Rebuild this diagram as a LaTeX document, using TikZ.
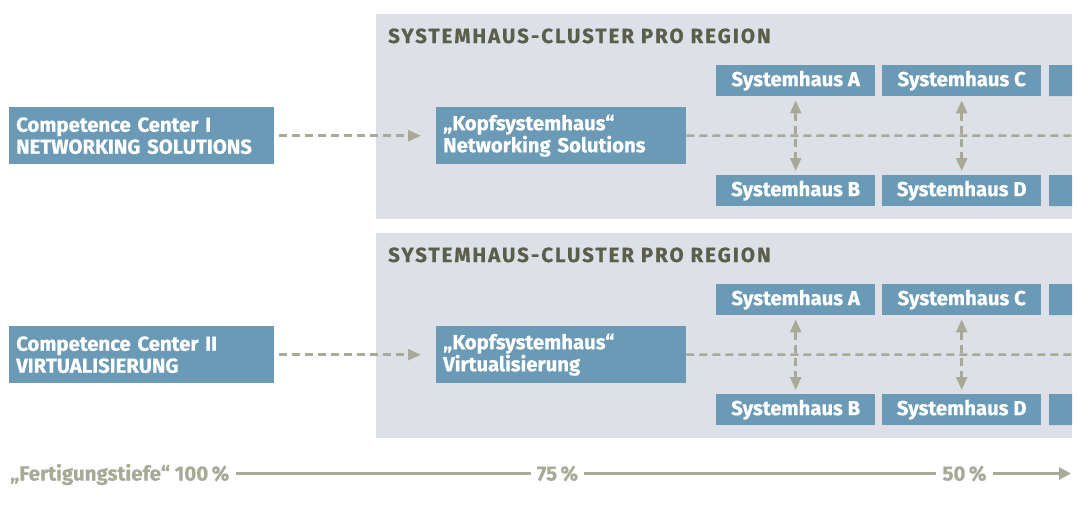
\documentclass[tikz,border=0pt]{standalone}
\usepackage{fontspec}
\setmainfont{Fira Sans}[BoldFeatures={FakeBold=0.6}]
\newfontfamily\spacedfont{Fira Sans}[LetterSpace=9.7, BoldFeatures={FakeBold=0.6}]
\usetikzlibrary{arrows.meta,positioning}
\definecolor{boxblue}{HTML}{6A9AB5}
\definecolor{clusterbg}{HTML}{DDE1E7}
\definecolor{linegrey}{HTML}{A9A998}
\definecolor{titlegrey}{HTML}{5A5E4B}
\tikzset{
  box/.style={fill=boxblue, text=white, font=\bfseries\fontsize{20.3}{22}\selectfont,
    inner sep=0pt, anchor=north west},
  bigbox/.style={box, minimum height=57pt, inner xsep=7pt, align=left},
  housebox/.style={box, minimum width=159pt, minimum height=31pt},
  title/.style={text=titlegrey, font=\spacedfont\bfseries\fontsize{20.5}{22}\selectfont,
    inner sep=0pt, anchor=base west},
  link/.style={draw=linegrey, line width=2.5pt, dash pattern=on 8pt off 5pt},
  tip/.tip={Triangle[length=13pt,width=11pt]},
  axis/.style={draw=linegrey, line width=2.6pt},
  axislabel/.style={text=linegrey, font=\bfseries\fontsize{20.5}{22}\selectfont,
    text height=14pt, text depth=0pt, inner xsep=6pt, inner ysep=0pt}
}
\begin{document}
\begin{tikzpicture}[x=1pt, y=-1pt]
  \useasboundingbox (0,0) rectangle (1077,507);

  % one cluster per competence center
  \foreach \c/\dy/\cc/\kopf in {
      1/0/{Competence Center I\\NETWORKING SOLUTIONS}/{„Kopfsystemhaus“\\Networking Solutions},
      2/219/{Competence Center II\\VIRTUALISIERUNG}/{„Kopfsystemhaus“\\Virtualisierung}} {
    \begin{scope}[yshift=-\dy pt]
      \fill [clusterbg] (376,14) rectangle (1072,218.5);
      \node [title] (title\c) at (388,43) {SYSTEMHAUS-CLUSTER PRO REGION};

      \node [bigbox, text width=251pt] (cc\c)   at (9,107)   {\cc};
      \node [bigbox, text width=236pt] (kopf\c) at (436,107) {\kopf};

      \node [housebox] (sha\c) at (716,65)  {Systemhaus A};
      \node [housebox] (shc\c) at (882,65)  {Systemhaus C};
      \node [housebox] (shb\c) at (716,175) {Systemhaus B};
      \node [housebox] (shd\c) at (882,175) {Systemhaus D};
      \fill [boxblue] (1049,65) rectangle (1072,96) (1049,175) rectangle (1072,206);
      \coordinate (edge\c) at (1072,135.5);

      \draw [link, -tip, shorten <=5pt, shorten >=15pt] (cc\c) -- (kopf\c);
      \draw [link] (kopf\c) -- (edge\c);
      \draw [link, tip-tip, shorten <=4pt, shorten >=4pt] (sha\c) -- (shb\c);
      \draw [link, tip-tip, shorten <=4pt, shorten >=4pt] (shc\c) -- (shd\c);
    \end{scope}
  }

  % axis
  \node [axislabel, anchor=west] (tiefe) at (4,473.5) {„Fertigungstiefe“ 100\,\%};
  \node [axislabel] (p75) at (557.5,473.5) {75\,\%};
  \node [axislabel] (p50) at (964.5,473.5) {50\,\%};
  \coordinate (axisend) at (1071,473.5);
  \draw [axis] (tiefe) -- (p75);
  \draw [axis] (p75) -- (p50);
  \draw [axis, -{Triangle[length=12pt,width=12pt]}] (p50) -- (axisend);
\end{tikzpicture}
\end{document}
